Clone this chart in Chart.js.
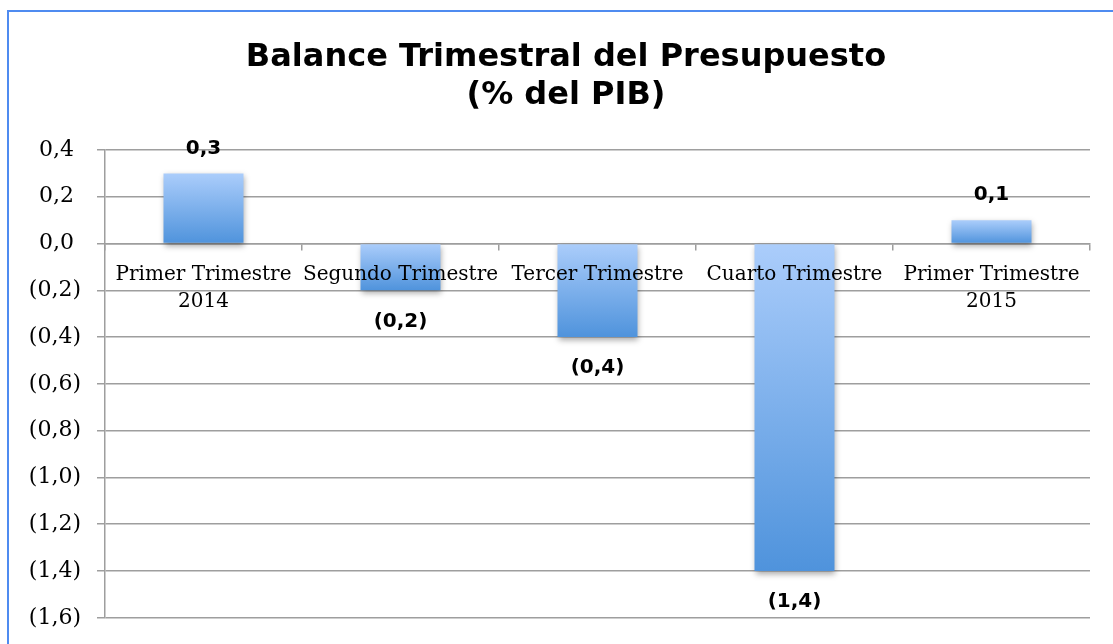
<!DOCTYPE html>
<html>
<head>
<meta charset="utf-8">
<script src="https://cdn.jsdelivr.net/npm/chart.js@4.4.1/dist/chart.umd.min.js"></script>
<style>
    html, body {margin: 0; padding: 0; background: #fff; overflow: hidden;}
    #frame {position: absolute; left: 7px; top: 10px; width: 1200px; height: 700px; border: 2px solid #4f8bf0;}
    #wrap {position: absolute; left: 0; top: 0; width: 1104px; height: 635px;}
</style>
</head>
<body>
<div id="frame"><div id="wrap"><canvas id="balanceChart"></canvas></div></div>
<script>
const quarters = [
    ['Primer Trimestre', '2014'],
    'Segundo Trimestre',
    'Tercer Trimestre',
    'Cuarto Trimestre',
    ['Primer Trimestre', '2015']
];
const balance = [0.3, -0.2, -0.4, -1.4, 0.1];
const titleLines = ['Balance Trimestral del Presupuesto', '(% del PIB)'];
const yMin = -1.6;
const yMax = 0.4;
const yStep = 0.2;

function fmt(v) {
    const s = Math.abs(v).toFixed(1).replace('.', ',');
    return v < -1e-9 ? '(' + s + ')' : s;
}

function barGradient(c) {
    const chart = c.chart;
    if (!chart.chartArea) return '#7fb2ea';
    const v = balance[c.dataIndex];
    const y = chart.scales.y;
    const top = y.getPixelForValue(Math.max(v, 0));
    const bot = y.getPixelForValue(Math.min(v, 0));
    const g = chart.ctx.createLinearGradient(0, top, 0, bot);
    g.addColorStop(0, '#abcdfb');
    g.addColorStop(1, '#4f93dc');
    return g;
}

// shadow under the bars + value labels
const barExtras = {
    id: 'barExtras',
    beforeDatasetsDraw(chart) {
        const ctx = chart.ctx;
        ctx.save();
        ctx.shadowColor = 'rgba(0,0,0,0.35)';
        ctx.shadowBlur = 6;
        ctx.shadowOffsetX = 1;
        ctx.shadowOffsetY = 3;
    },
    afterDatasetsDraw(chart) {
        const ctx = chart.ctx;
        ctx.restore();
        const meta = chart.getDatasetMeta(0);
        ctx.save();
        ctx.font = 'bold 20px "DejaVu Sans"';
        ctx.fillStyle = '#000';
        ctx.textAlign = 'center';
        ctx.textBaseline = 'middle';
        meta.data.forEach((bar, i) => {
            const v = balance[i];
            const y = v >= 0 ? bar.y - 25 : bar.y + 31;
            ctx.fillText(fmt(v), bar.x, y);
        });
        ctx.restore();
    }
};

// title centred on the whole frame, not only the padded layout box
const frameTitle = {
    id: 'frameTitle',
    afterDraw(chart) {
        const ctx = chart.ctx;
        ctx.save();
        ctx.font = 'bold 32px "DejaVu Sans"';
        ctx.fillStyle = '#000';
        ctx.textAlign = 'center';
        ctx.textBaseline = 'middle';
        titleLines.forEach((t, i) => ctx.fillText(t, 557, 46 + i * 38));
        ctx.restore();
    }
};

const ctx = document.getElementById('balanceChart').getContext('2d');
new Chart(ctx, {
    type: 'bar',
    data: {
        labels: quarters,
        datasets: [{
            data: balance,
            backgroundColor: barGradient,
            borderWidth: 0,
            barPercentage: 0.406,
            categoryPercentage: 1
        }]
    },
    options: {
        responsive: true,
        maintainAspectRatio: false,
        animation: false,
        layout: {padding: {top: 138, right: 23, bottom: 21}},
        scales: {
            x: {
                position: {y: 0},
                grid: {display: true, drawOnChartArea: false, drawTicks: true, tickLength: 6, color: '#9e9e9e', lineWidth: 1.5},
                border: {display: true, color: '#9e9e9e', width: 1.5},
                ticks: {
                    z: 1,
                    color: '#000',
                    font: {family: '"DejaVu Serif"', size: 20, lineHeight: 1.35},
                    padding: 12,
                    maxRotation: 0,
                    autoSkip: false
                }
            },
            y: {
                min: yMin,
                max: yMax,
                afterFit: (scale) => { scale.width = 96; },
                grid: {color: '#9e9e9e', lineWidth: 1.5, tickLength: 8},
                border: {display: true, color: '#9e9e9e', width: 1.5},
                ticks: {
                    stepSize: yStep,
                    color: '#000',
                    padding: 16,
                    font: {family: '"DejaVu Serif"', size: 22},
                    callback: (v) => v < -1e-9 ? fmt(v) : fmt(v) + '\u2008'
                }
            }
        },
        plugins: {
            legend: {display: false},
            tooltip: {enabled: false},
            title: {display: false}
        }
    },
    plugins: [barExtras, frameTitle]
});
</script>
</body>
</html>
